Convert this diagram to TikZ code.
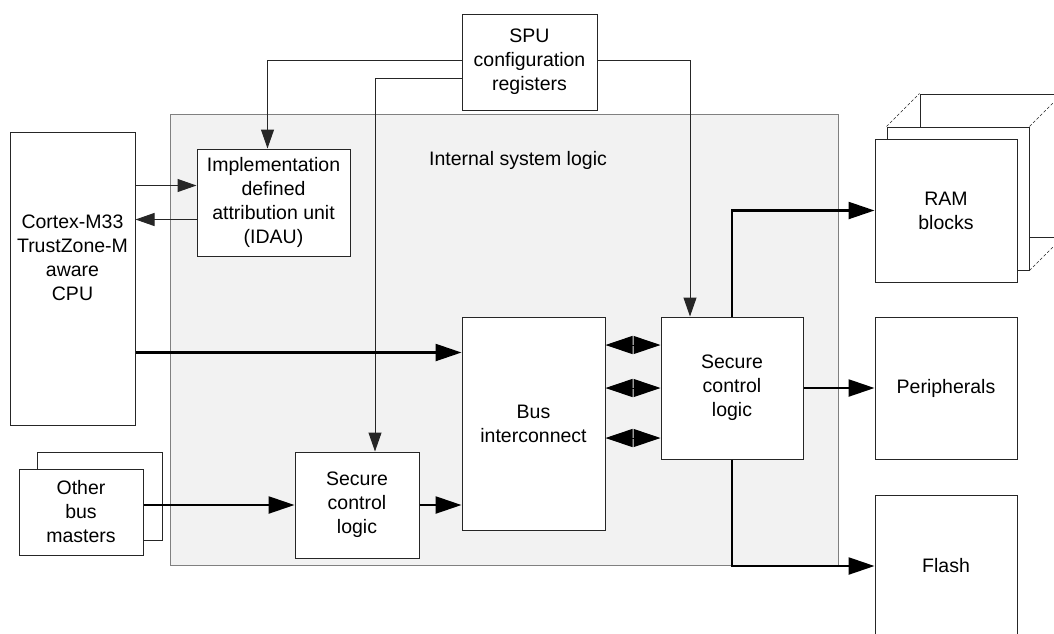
\documentclass[tikz,border=0pt]{standalone}
\usepackage{fontspec}
\setmainfont{Liberation Sans}
\usetikzlibrary{arrows.meta,calc}

\begin{document}
\begin{tikzpicture}[x=1pt,y=-1pt,font=\fontsize{19.5}{24}\selectfont,
  box/.style={draw=black!85,line width=1pt,fill=white,inner sep=0pt,align=center},
  thinarr/.style={draw=black!85,line width=1pt,-{Triangle[length=19pt,width=13pt]}},
  thickarr/.style={line width=2.4pt,-{Triangle[length=26pt,width=17pt]}},
  dblarr/.style={line width=1pt,{Triangle[length=27pt,width=18pt]}-{Triangle[length=27pt,width=18pt]}}]
\useasboundingbox (0,0) rectangle (1054,633);
\clip (0,0) rectangle (1054,633);

% container
\node[draw=black!50,line width=1pt,fill=black!5,minimum width=668pt,minimum height=451pt,inner sep=0pt] (sys) at (504,339.5) {};
\node (syslbl) at (518,160) {Internal system logic};

% blocks
\node[box,minimum width=135pt,minimum height=96pt] (spu) at (529.5,62) {SPU\\configuration\\registers};
\node[box,minimum width=125pt,minimum height=293pt] (cpu) at (72.5,278.5) {};
\node[align=center] (cputxt) at (72.5,258) {Cortex-M33\\TrustZone-M\\aware\\CPU};
\node[box,minimum width=153pt,minimum height=107pt] (idau) at (273.5,202.5) {Implementation\\defined\\attribution unit\\(IDAU)};
\node[box,minimum width=143pt,minimum height=213pt] (bus) at (533.5,423.5) {Bus\\interconnect};
\node[box,minimum width=142pt,minimum height=142pt] (sclr) at (732,388) {Secure\\control\\logic};
\node[box,minimum width=124pt,minimum height=106pt] (scll) at (357,505) {Secure\\control\\logic};

% RAM stack
\node[box,minimum width=142pt,minimum height=143pt] (ram3) at (991,165.5) {};
\node[box,minimum width=142pt,minimum height=143pt] (ram2) at (958,198.5) {};
\draw[black!85,dash pattern=on 3pt off 2pt] (ram2.north west) -- (ram3.north west)
  (ram2.north east) -- (ram3.north east) (ram2.south east) -- (ram3.south east);
\node[box,minimum width=142pt,minimum height=143pt] (ram) at (946,210.5) {RAM\\blocks};

\node[box,minimum width=142pt,minimum height=142pt] (peri) at (946,388) {Peripherals};
\node[box,minimum width=142pt,minimum height=142pt] (flash) at (946,566) {Flash};

\node[box,minimum width=125pt,minimum height=88pt] (obm2) at (99.5,496) {};
\node[box,minimum width=124pt,minimum height=86pt] (obm) at (81,512) {Other\\bus\\masters};

% SPU configuration lines
\draw[thinarr] ([yshift=2pt]spu.west) -| ([xshift=-6pt]idau.north);
\draw[thinarr] ([yshift=-16pt]spu.west) -| ([xshift=18pt]scll.north);
\draw[thinarr] ([yshift=2pt]spu.east) -| ([xshift=-42pt]sclr.north);

% CPU and IDAU
\coordinate (idin) at ([yshift=17pt]idau.west);
\coordinate (idout) at ([yshift=-17pt]idau.west);
\draw[thinarr] (cpu.east |- idin) -- (idin);
\draw[thinarr] (idout) -- (cpu.east |- idout);

% bus paths
\coordinate (busin) at ($(bus.north west)+(0,36)$);
\draw[thickarr] (cpu.east |- busin) -- (busin);
\draw[thickarr] (obm.east |- scll.west) -- (scll.west);
\draw[thickarr] (scll.east) -- (scll.east -| bus.west);
\foreach \dy in {43,0,-50}
  \draw[dblarr] ([yshift=\dy pt]sclr.west -| bus.east) -- ([yshift=\dy pt]sclr.west);
\draw[thickarr] (sclr.north) |- (ram.west);
\draw[thickarr] (sclr.east) -- (peri.west);
\draw[thickarr] (sclr.south) |- (flash.west);

\end{tikzpicture}
\end{document}
